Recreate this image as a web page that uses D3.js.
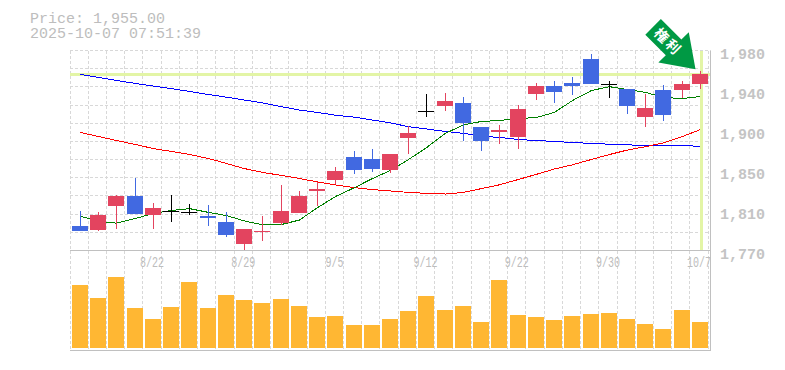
<!DOCTYPE html>
<html>
<head>
<meta charset="utf-8">
<script src="https://cdn.jsdelivr.net/npm/d3@7"></script>
<style>
html, body { margin: 0; padding: 0; background: #fff; overflow: hidden; }
svg { display: block; }
text { font-family: "Liberation Mono", "DejaVu Sans Mono", monospace; fill: #bdbdbd; }
</style>
</head>
<body>
<div id="chart"></div>
<script>
// trading days
var dates = ['8/18','8/19','8/20','8/21','8/22','8/25','8/26','8/27','8/28','8/29',
    '9/1','9/2','9/3','9/4','9/5','9/8','9/9','9/10','9/11','9/12',
    '9/16','9/17','9/18','9/19','9/22','9/24','9/25','9/26','9/29','9/30',
    '10/1','10/2','10/3','10/6','10/7']
var dateTicks = ['8/22','8/29','9/5','9/12','9/22','9/30','10/7']

var opens = [1796,1791,1817,1827,1808,1811,1810,1806,1800,1777,1790,1799,1809,1833,1845,1868,1866,1854,1888,1917,1922,1925,1900,1895,1890,1935,1943,1946,1971,1945,1940,1911,1939,1939,1945]
var highs = [1812,1810,1828,1846,1820,1828,1819,1818,1810,1793,1806,1839,1832,1842,1858,1874,1877,1871,1901,1934,1935,1931,1900,1902,1923,1946,1948,1952,1976,1948,1940,1934,1944,1948,1959]
var lows = [1790,1791,1793,1808,1793,1800,1807,1796,1784,1771,1780,1797,1809,1817,1840,1850,1852,1851,1871,1910,1916,1885,1874,1882,1877,1928,1925,1933,1945,1930,1913,1900,1906,1930,1940]
var closes = [1791,1807,1827,1808,1815,1811,1810,1804,1786,1793,1791,1812,1827,1835,1854,1854,1855,1871,1893,1917,1927,1904,1885,1897,1919,1943,1937,1943,1945,1945,1922,1920,1913,1945,1955]

var maShort = [1806,1800.5,1798.7,1803.6,1809,1812,1814,1810,1806.7,1801,1797,1797.3,1802,1815,1826.7,1836,1845.6,1854,1865.5,1878,1893,1902,1905.5,1906.5,1908.6,1909.6,1915,1927.5,1938,1942,1939,1936,1930.6,1929.6,1931.7]
var maMid = [1893.9,1889.7,1885.5,1881.3,1877,1874,1870.8,1866.6,1861.4,1856,1852,1848.8,1845.6,1842,1838.8,1836,1834,1832.5,1831,1830,1829.3,1831,1835,1839,1844.6,1850,1855.6,1860,1865.6,1870.8,1875.5,1879,1883,1889.7,1897]
var maLong = [1954.8,1951.7,1948.5,1945.4,1942.7,1940,1937,1933.8,1931,1928,1925,1921,1917.5,1915,1912,1910,1907,1904,1900,1897.6,1895,1893,1890,1888.7,1886.5,1885.5,1884.5,1883.4,1882.4,1881.6,1881,1880,1880,1880,1879.5]

var volumes = [63,50,71,40,29,41,66,40,53,48,45,49,42,31,32,23,23,29,37,52,38,42,26,68,33,31,28,32,34,35,29,24,19,38,26]

var priceTicks = [1980,1938,1896,1854,1812,1770]
var priceDomain = [1770,1980]
var volumeDomain = [0,100]
var lastPrice = 1955
var title = 'Price: 1,955.00'
var timestamp = '2025-10-07 07:51:39'
var markerText = '権利'

var config = {
    'width': 785,
    'height': 370,
    'left': 70,
    'right': 708.2,
    'axis_right': 710.5,
    'price_top': 50.5,
    'price_bottom': 250.5,
    'vol_bottom': 350.5,
    'h_grid': 11
}

var colours = {
    'up': '#e3445f',
    'down': '#4169e1',
    'doji': '#000000',
    'short': '#008000',
    'mid': '#ff0000',
    'long': '#0000ff',
    'grid': '#d8d8d8',
    'axis': '#c0c0c0',
    'volume': '#ffb733',
    'highlight': '#e3f5a6',
    'marker': '#009944'
}

var svg = d3.select('#chart').append('svg')
    .attr('width', config.width)
    .attr('height', config.height)

// scales
var index = d3.range(dates.length)

var xScale = d3.scaleBand()
    .domain(index)
    .range([config.left, config.right])

var step = xScale.step()
var barLeft = function(i) { return Math.round(xScale(i) + 2) }
var barCentre = function(i) { return barLeft(i) + 8.5 }

var yScale = d3.scaleLinear()
    .domain(priceDomain)
    .range([config.price_bottom, config.price_top])

var volScale = d3.scaleLinear()
    .domain(volumeDomain)
    .range([config.vol_bottom - 2.5, config.vol_bottom - 102.5])

// grid
var grid = svg.append('g')
    .attr('shape-rendering', 'crispEdges')
    .attr('stroke', colours.grid)
    .attr('stroke-dasharray', '3,2')

grid.selectAll('.v')
    .data(d3.range(dates.length + 1))
    .enter()
    .append('line')
    .attr('x1', d => Math.floor(config.left + d * step) + 0.5)
    .attr('x2', d => Math.floor(config.left + d * step) + 0.5)
    .attr('y1', config.price_top)
    .attr('y2', config.vol_bottom)

grid.selectAll('.h')
    .data(d3.range(config.h_grid))
    .enter()
    .append('line')
    .attr('x1', config.left)
    .attr('x2', config.axis_right)
    .attr('y1', d => Math.floor(config.price_top + d * (config.price_bottom - config.price_top) / config.h_grid) + 0.5)
    .attr('y2', d => Math.floor(config.price_top + d * (config.price_bottom - config.price_top) / config.h_grid) + 0.5)

// last price highlight
var highlight = svg.append('g')
    .attr('shape-rendering', 'crispEdges')
    .attr('stroke', colours.highlight)
    .attr('stroke-width', 3)

highlight.append('line')
    .attr('x1', config.left)
    .attr('x2', config.axis_right)
    .attr('y1', Math.round(yScale(lastPrice)))
    .attr('y2', Math.round(yScale(lastPrice)))

highlight.append('line')
    .attr('x1', barCentre(index.length - 1) + 0.5)
    .attr('x2', barCentre(index.length - 1) + 0.5)
    .attr('y1', config.price_top)
    .attr('y2', config.price_bottom)

// axes frame
var frame = svg.append('g')
    .attr('shape-rendering', 'crispEdges')
    .attr('stroke', colours.axis)

frame.append('line').attr('x1', config.left).attr('x2', config.axis_right)
    .attr('y1', config.price_bottom).attr('y2', config.price_bottom)
frame.append('line').attr('x1', config.left).attr('x2', config.axis_right)
    .attr('y1', config.vol_bottom).attr('y2', config.vol_bottom)
frame.append('line').attr('x1', config.axis_right).attr('x2', config.axis_right)
    .attr('y1', config.price_top).attr('y2', config.vol_bottom)

// price axis, labels are rounded to the nearest 10
var yAxisGenerator = d3.axisRight(yScale)
    .tickValues(priceTicks)
    .tickSize(0)
    .tickPadding(0)
    .tickFormat(d => d3.format(',')(Math.round(d / 10) * 10))

var yAxis = svg.append('g')
    .attr('transform', 'translate(720 0)')
    .call(yAxisGenerator)

yAxis.select('.domain').remove()
yAxis.selectAll('.tick text')
    .attr('dy', '7.5')
    .style('font-size', '15px')
    .style('font-weight', 'bold')
    .style('fill', '#c4c4c4')

// date axis
var xAxisGenerator = d3.axisBottom(xScale)
    .tickValues(index.filter(i => dateTicks.indexOf(dates[i]) > -1))
    .tickSize(0)
    .tickPadding(0)
    .tickFormat(i => dates[i])

var xAxis = svg.append('g')
    .attr('transform', 'translate(0 ' + config.price_bottom + ')')
    .call(xAxisGenerator)

xAxis.select('.domain').remove()
xAxis.selectAll('.tick text')
    .attr('y', 16.5)
    .attr('dy', 0)
    .style('font-size', '14px')
    .attr('textLength', d => dates[d].length * 6)
    .attr('lengthAdjust', 'spacingAndGlyphs')

// moving averages
var maLine = d3.line()
    .x((d, i) => barCentre(i))
    .y(d => yScale(d))

var maLayer = svg.append('g')
    .attr('fill', 'none')
    .attr('shape-rendering', 'crispEdges')

maLayer.append('path').datum(maLong).attr('d', maLine).attr('stroke', colours.long)
maLayer.append('path').datum(maMid).attr('d', maLine).attr('stroke', colours.mid)
maLayer.append('path').datum(maShort).attr('d', maLine).attr('stroke', colours.short)

// candles
var candleColour = function(i) {
    if (opens[i] === closes[i]) { return colours.doji }
    return closes[i] > opens[i] ? colours.up : colours.down
}

var candles = svg.append('g')
    .attr('shape-rendering', 'crispEdges')
    .selectAll('g')
    .data(index)
    .enter()
    .append('g')

candles.append('line')
    .attr('x1', barCentre)
    .attr('x2', barCentre)
    .attr('y1', i => Math.round(yScale(highs[i])))
    .attr('y2', i => Math.round(yScale(lows[i])))
    .attr('stroke', candleColour)

candles.append('rect')
    .attr('x', barLeft)
    .attr('width', 16)
    .attr('y', i => Math.round(yScale(Math.max(opens[i], closes[i]))))
    .attr('height', i => Math.max(1, Math.round(Math.abs(yScale(opens[i]) - yScale(closes[i])))))
    .attr('fill', candleColour)

// volume
svg.append('g')
    .attr('shape-rendering', 'crispEdges')
    .selectAll('rect')
    .data(index)
    .enter()
    .append('rect')
    .attr('x', barLeft)
    .attr('width', 16)
    .attr('y', i => volScale(volumes[i]))
    .attr('height', i => volScale(0) - volScale(volumes[i]))
    .attr('fill', colours.volume)

// header
svg.append('text').attr('x', 30).attr('y', 23).style('font-size', '15px').text(title)
svg.append('text').attr('x', 30).attr('y', 38).style('font-size', '15px').text(timestamp)

// marker arrow, drawn pointing right then rotated towards the last candle
var tipX = barCentre(index.length - 1) - 5
var tipY = yScale(lastPrice) - 5

var marker = svg.append('g')
    .attr('transform', 'translate(' + tipX + ' ' + tipY + ') rotate(45)')

var arrowShape = [[0,0],[-31,-21.5],[-31,-11],[-60,-11],[-60,11],[-31,11],[-31,21.5]]

marker.append('path')
    .attr('d', d3.line()(arrowShape) + 'Z')
    .attr('fill', colours.marker)

marker.append('text')
    .attr('x', -55)
    .attr('y', 5)
    .attr('letter-spacing', 2)
    .style('font-family', '"Noto Sans CJK JP"')
    .style('font-weight', 'bold')
    .style('font-size', '14px')
    .style('fill', '#ffffff')
    .text(markerText)
</script>
</body>
</html>
